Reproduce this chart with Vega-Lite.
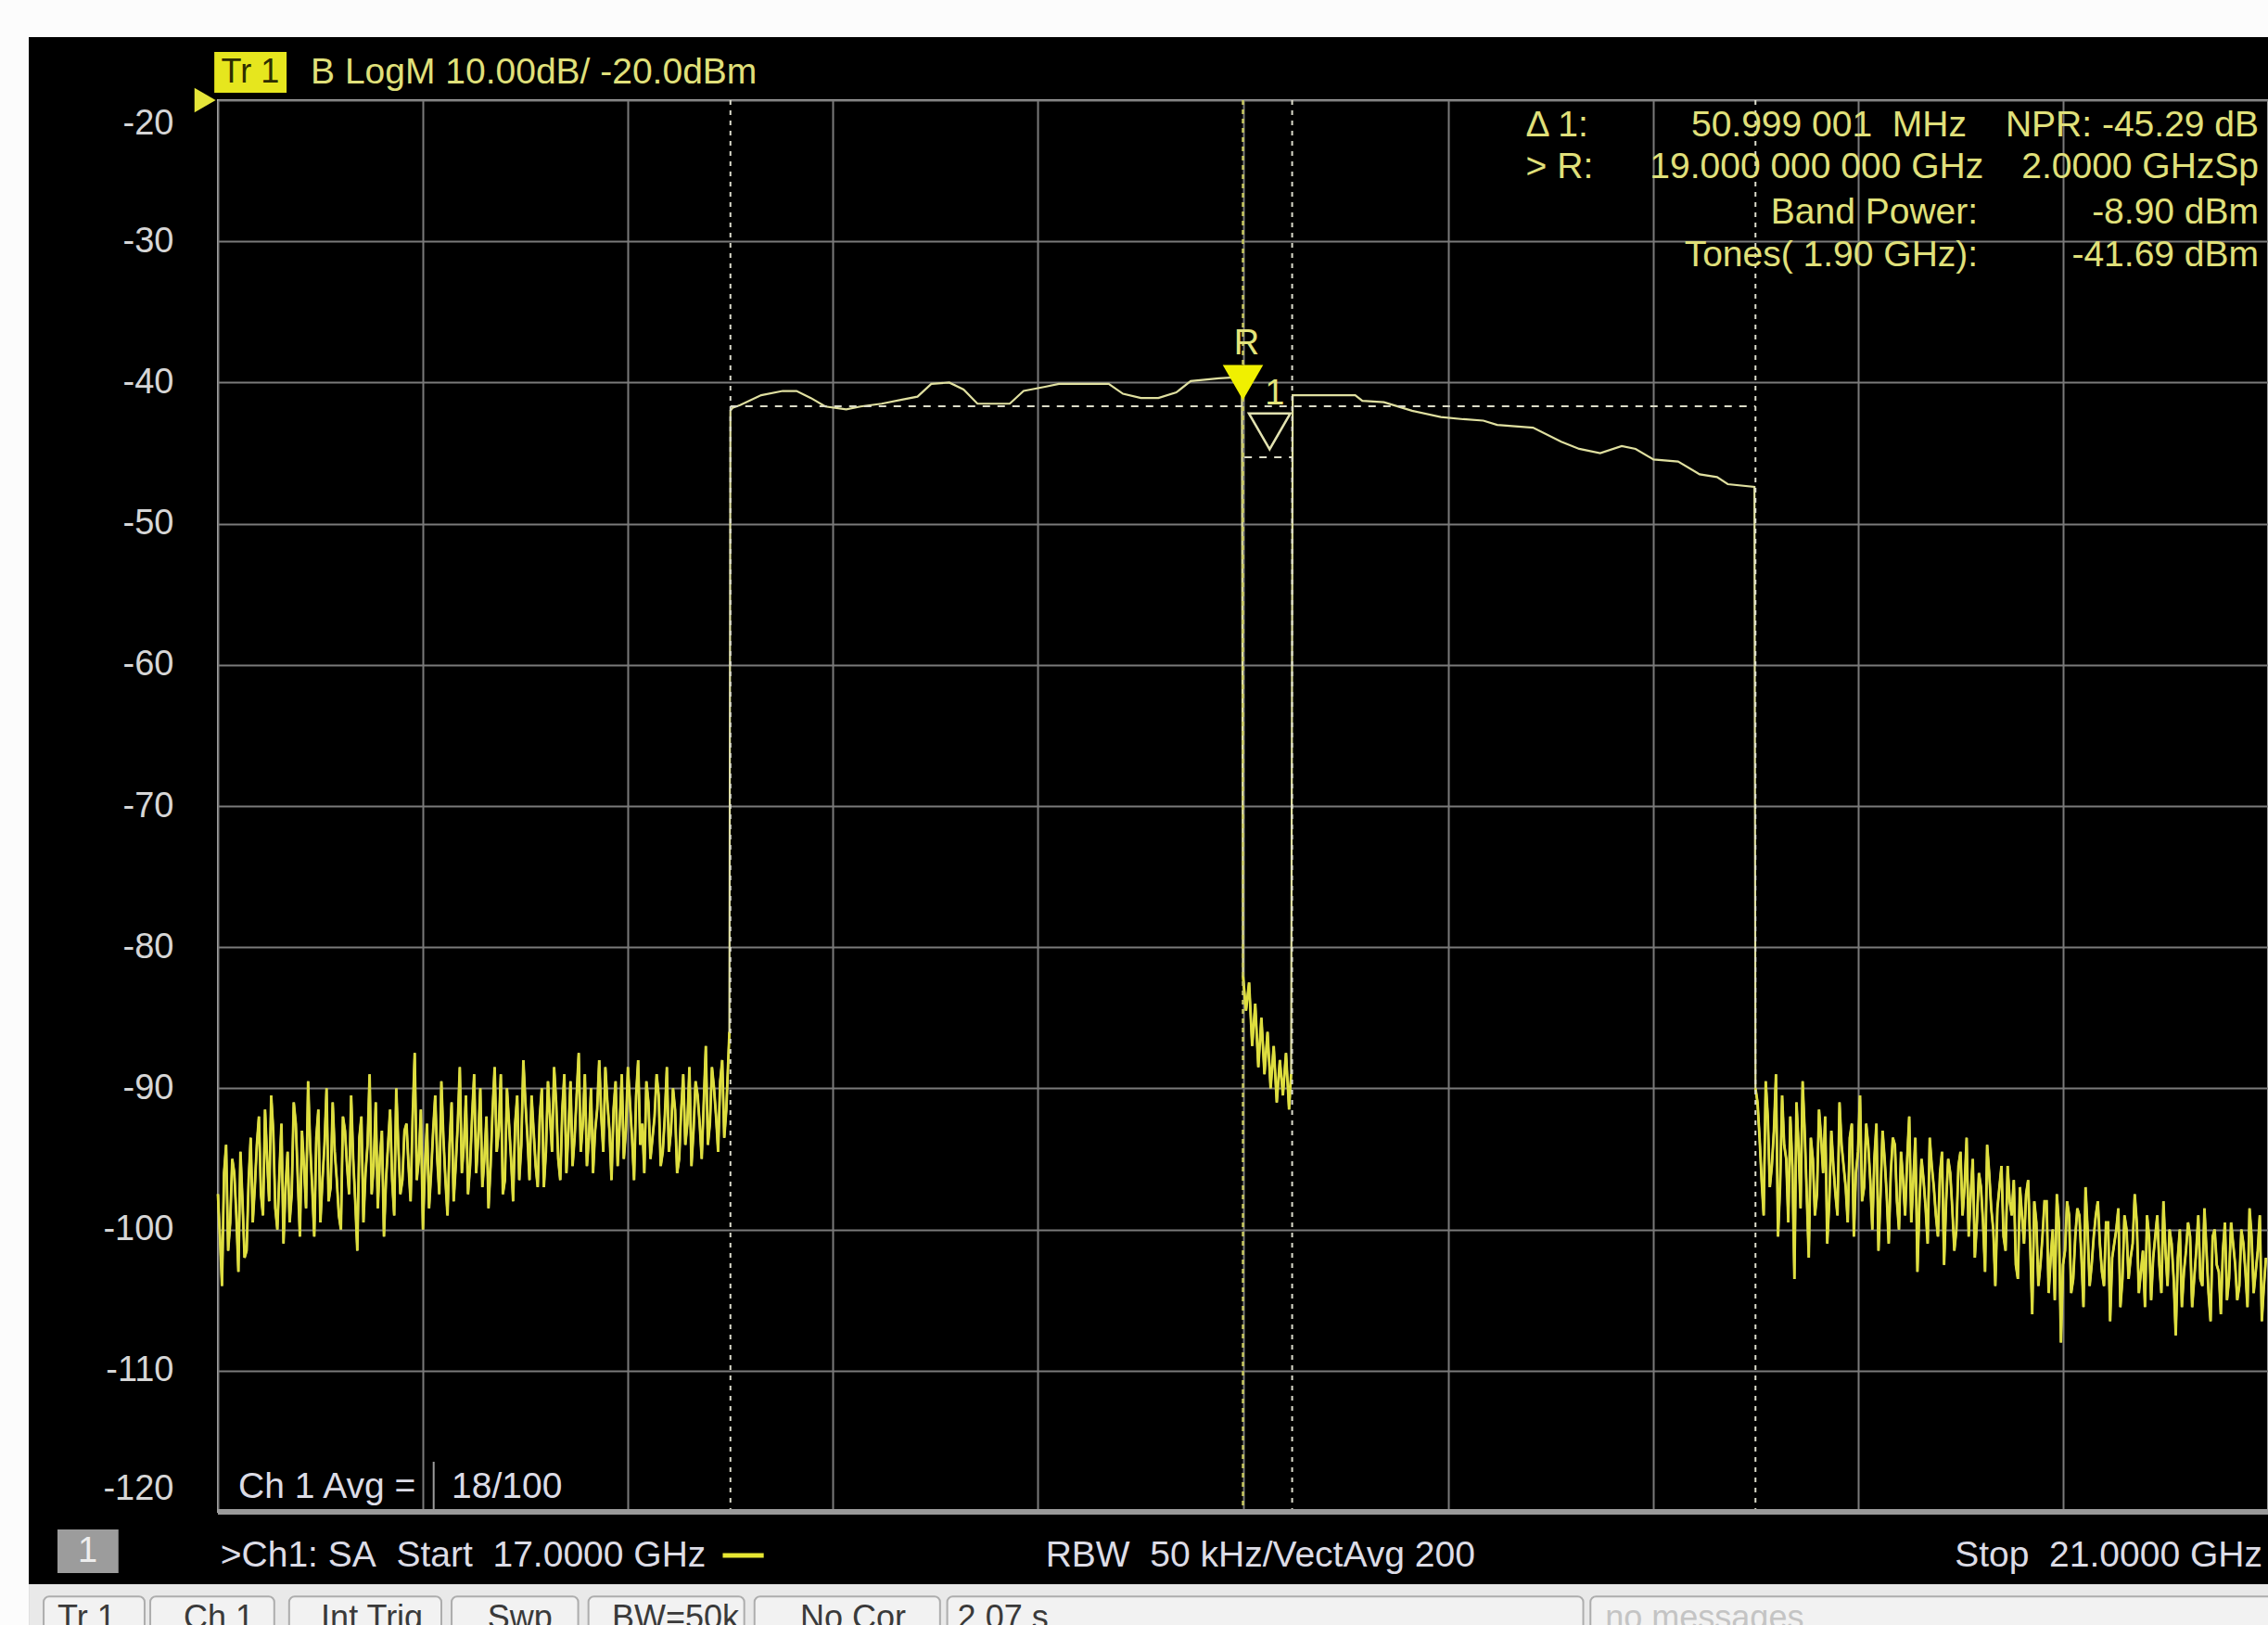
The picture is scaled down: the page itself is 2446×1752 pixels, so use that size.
{
  "$schema": "https://vega.github.io/schema/vega-lite/v6.json",
  "width": 2211,
  "height": 1522,
  "autosize": {"type": "none"},
  "padding": {"left": 235, "top": 108, "right": 0, "bottom": 122},
  "background": "#000000",
  "config": {"view": {"stroke": "#c0c0c0", "strokeWidth": 2}},
  "resolve": {"axis": {"x": "independent", "y": "independent"}},
  "datasets": {
    "trace": [
      {"f":17.000,"db":-97.5},{"f":17.008,"db":-104.0},{"f":17.016,"db":-94.0},{"f":17.024,"db":-99.5},{"f":17.032,"db":-96.0},{"f":17.040,"db":-103.0},{"f":17.048,"db":-98.0},{"f":17.056,"db":-101.5},{"f":17.064,"db":-93.5},{"f":17.072,"db":-97.0},
      {"f":17.080,"db":-92.0},{"f":17.088,"db":-99.0},{"f":17.096,"db":-95.0},{"f":17.104,"db":-90.5},{"f":17.112,"db":-98.5},{"f":17.120,"db":-96.0},{"f":17.128,"db":-101.0},{"f":17.136,"db":-94.5},{"f":17.144,"db":-97.5},{"f":17.152,"db":-92.5},
      {"f":17.160,"db":-100.5},{"f":17.168,"db":-95.5},{"f":17.176,"db":-89.5},{"f":17.184,"db":-97.0},{"f":17.192,"db":-93.5},{"f":17.200,"db":-99.5},{"f":17.208,"db":-94.0},{"f":17.216,"db":-98.0},{"f":17.224,"db":-91.0},{"f":17.232,"db":-96.5},
      {"f":17.240,"db":-100.0},{"f":17.248,"db":-93.0},{"f":17.256,"db":-97.5},{"f":17.264,"db":-95.0},{"f":17.272,"db":-101.5},{"f":17.280,"db":-92.0},{"f":17.288,"db":-96.0},{"f":17.296,"db":-89.0},{"f":17.304,"db":-95.5},{"f":17.312,"db":-98.5},
      {"f":17.320,"db":-93.0},{"f":17.328,"db":-96.5},{"f":17.336,"db":-91.5},{"f":17.344,"db":-99.0},{"f":17.352,"db":-94.0},{"f":17.360,"db":-96.5},{"f":17.368,"db":-92.5},{"f":17.376,"db":-98.0},{"f":17.384,"db":-87.5},{"f":17.392,"db":-95.0},
      {"f":17.400,"db":-100.0},{"f":17.408,"db":-92.5},{"f":17.416,"db":-96.0},{"f":17.424,"db":-90.5},{"f":17.432,"db":-97.5},{"f":17.440,"db":-93.5},{"f":17.448,"db":-99.0},{"f":17.456,"db":-91.0},{"f":17.464,"db":-95.5},{"f":17.472,"db":-88.5},
      {"f":17.480,"db":-94.0},{"f":17.488,"db":-97.5},{"f":17.496,"db":-92.0},{"f":17.504,"db":-96.0},{"f":17.512,"db":-90.0},{"f":17.520,"db":-95.0},{"f":17.528,"db":-98.5},{"f":17.536,"db":-91.5},{"f":17.544,"db":-94.5},{"f":17.552,"db":-89.0},
      {"f":17.560,"db":-96.5},{"f":17.568,"db":-92.5},{"f":17.576,"db":-98.0},{"f":17.584,"db":-90.5},{"f":17.592,"db":-94.0},{"f":17.600,"db":-91.0},{"f":17.608,"db":-96.5},{"f":17.616,"db":-93.0},{"f":17.624,"db":-97.0},{"f":17.632,"db":-90.0},
      {"f":17.640,"db":-94.5},{"f":17.648,"db":-92.0},{"f":17.656,"db":-88.5},{"f":17.664,"db":-95.0},{"f":17.672,"db":-91.5},{"f":17.680,"db":-96.0},{"f":17.688,"db":-89.5},{"f":17.696,"db":-93.5},{"f":17.704,"db":-87.5},{"f":17.712,"db":-92.5},
      {"f":17.720,"db":-95.5},{"f":17.728,"db":-90.0},{"f":17.736,"db":-93.0},{"f":17.744,"db":-88.0},{"f":17.752,"db":-94.5},{"f":17.760,"db":-91.0},{"f":17.768,"db":-96.5},{"f":17.776,"db":-89.5},{"f":17.784,"db":-92.5},{"f":17.792,"db":-95.0},
      {"f":17.800,"db":-88.5},{"f":17.808,"db":-93.5},{"f":17.816,"db":-90.5},{"f":17.824,"db":-94.0},{"f":17.832,"db":-96.0},{"f":17.840,"db":-91.0},{"f":17.848,"db":-93.5},{"f":17.856,"db":-89.0},{"f":17.864,"db":-95.5},{"f":17.872,"db":-92.0},
      {"f":17.880,"db":-94.5},{"f":17.888,"db":-90.0},{"f":17.896,"db":-96.0},{"f":17.904,"db":-91.5},{"f":17.912,"db":-94.0},{"f":17.920,"db":-88.5},{"f":17.928,"db":-93.0},{"f":17.936,"db":-90.5},{"f":17.944,"db":-95.0},{"f":17.952,"db":-87.0},
      {"f":17.960,"db":-92.5},{"f":17.968,"db":-90.0},{"f":17.976,"db":-94.5},{"f":17.984,"db":-88.0},{"f":17.992,"db":-91.5},{"f":17.998,"db":-86.0},
      {"f":18.000,"db":-42.0},{"f":18.004,"db":-41.8},{"f":18.019,"db":-41.6},{"f":18.060,"db":-40.9},{"f":18.102,"db":-40.6},{"f":18.129,"db":-40.6},{"f":18.157,"db":-41.1},{"f":18.185,"db":-41.7},{"f":18.226,"db":-41.9},{"f":18.254,"db":-41.7},
      {"f":18.295,"db":-41.5},{"f":18.337,"db":-41.2},{"f":18.365,"db":-41.0},{"f":18.392,"db":-40.1},{"f":18.427,"db":-40.0},{"f":18.455,"db":-40.5},{"f":18.482,"db":-41.5},{"f":18.545,"db":-41.5},{"f":18.572,"db":-40.6},{"f":18.614,"db":-40.3},
      {"f":18.641,"db":-40.1},{"f":18.738,"db":-40.1},{"f":18.766,"db":-40.8},{"f":18.801,"db":-41.1},{"f":18.835,"db":-41.1},{"f":18.870,"db":-40.7},{"f":18.898,"db":-39.9},{"f":18.953,"db":-39.7},{"f":18.998,"db":-39.6},
      {"f":19.000,"db":-82.0},{"f":19.006,"db":-84.5},{"f":19.012,"db":-82.5},{"f":19.018,"db":-87.0},{"f":19.024,"db":-84.0},{"f":19.030,"db":-88.5},{"f":19.036,"db":-85.0},{"f":19.042,"db":-89.0},{"f":19.048,"db":-86.0},{"f":19.054,"db":-90.0},
      {"f":19.060,"db":-87.0},{"f":19.066,"db":-91.0},{"f":19.072,"db":-88.0},{"f":19.078,"db":-90.5},{"f":19.084,"db":-87.5},{"f":19.090,"db":-91.5},{"f":19.094,"db":-89.0},
      {"f":19.097,"db":-40.9},{"f":19.150,"db":-40.9},{"f":19.219,"db":-40.9},{"f":19.233,"db":-41.3},{"f":19.275,"db":-41.4},{"f":19.330,"db":-42.0},{"f":19.386,"db":-42.45},{"f":19.430,"db":-42.6},{"f":19.469,"db":-42.7},{"f":19.496,"db":-43.0},
      {"f":19.566,"db":-43.2},{"f":19.621,"db":-44.2},{"f":19.656,"db":-44.7},{"f":19.697,"db":-45.0},{"f":19.739,"db":-44.5},{"f":19.766,"db":-44.7},{"f":19.801,"db":-45.45},{"f":19.849,"db":-45.6},{"f":19.891,"db":-46.5},{"f":19.925,"db":-46.7},
      {"f":19.946,"db":-47.2},{"f":19.998,"db":-47.4},
      {"f":20.000,"db":-90.0},{"f":20.004,"db":-91.0},{"f":20.012,"db":-96.5},{"f":20.020,"db":-89.5},{"f":20.028,"db":-97.0},{"f":20.036,"db":-93.0},{"f":20.044,"db":-100.5},{"f":20.052,"db":-90.5},{"f":20.060,"db":-95.0},{"f":20.068,"db":-92.0},
      {"f":20.076,"db":-103.5},{"f":20.084,"db":-94.0},{"f":20.092,"db":-89.5},{"f":20.100,"db":-97.5},{"f":20.108,"db":-93.5},{"f":20.116,"db":-99.0},{"f":20.124,"db":-91.5},{"f":20.132,"db":-96.0},{"f":20.140,"db":-101.0},{"f":20.148,"db":-93.0},
      {"f":20.156,"db":-97.5},{"f":20.164,"db":-91.0},{"f":20.172,"db":-95.5},{"f":20.180,"db":-99.5},{"f":20.188,"db":-92.5},{"f":20.196,"db":-96.0},{"f":20.204,"db":-90.5},{"f":20.212,"db":-97.0},{"f":20.220,"db":-94.0},{"f":20.228,"db":-100.0},
      {"f":20.236,"db":-92.5},{"f":20.244,"db":-97.5},{"f":20.252,"db":-95.0},{"f":20.260,"db":-101.0},{"f":20.268,"db":-93.5},{"f":20.276,"db":-98.0},{"f":20.284,"db":-94.5},{"f":20.292,"db":-99.0},{"f":20.300,"db":-92.0},{"f":20.308,"db":-96.5},
      {"f":20.316,"db":-103.0},{"f":20.324,"db":-95.0},{"f":20.332,"db":-98.5},{"f":20.340,"db":-93.5},{"f":20.348,"db":-97.0},{"f":20.356,"db":-100.5},{"f":20.364,"db":-94.5},{"f":20.372,"db":-98.0},{"f":20.380,"db":-96.0},{"f":20.388,"db":-101.5},
      {"f":20.396,"db":-95.5},{"f":20.404,"db":-99.0},{"f":20.412,"db":-93.5},{"f":20.420,"db":-97.5},{"f":20.428,"db":-102.0},{"f":20.436,"db":-96.0},{"f":20.444,"db":-99.5},{"f":20.452,"db":-94.0},{"f":20.460,"db":-98.5},{"f":20.468,"db":-104.0},
      {"f":20.476,"db":-97.0},{"f":20.484,"db":-100.5},{"f":20.492,"db":-95.5},{"f":20.500,"db":-99.0},{"f":20.508,"db":-102.5},{"f":20.516,"db":-97.0},{"f":20.524,"db":-101.0},{"f":20.532,"db":-96.5},{"f":20.540,"db":-106.0},{"f":20.548,"db":-99.5},
      {"f":20.556,"db":-102.5},{"f":20.564,"db":-98.0},{"f":20.572,"db":-104.5},{"f":20.580,"db":-100.0},{"f":20.588,"db":-97.5},{"f":20.596,"db":-108.0},{"f":20.604,"db":-101.5},{"f":20.612,"db":-99.0},{"f":20.620,"db":-103.5},{"f":20.628,"db":-98.5},
      {"f":20.636,"db":-102.0},{"f":20.644,"db":-97.0},{"f":20.652,"db":-104.0},{"f":20.660,"db":-100.5},{"f":20.668,"db":-98.0},{"f":20.676,"db":-103.0},{"f":20.684,"db":-99.5},{"f":20.692,"db":-106.5},{"f":20.700,"db":-101.0},{"f":20.708,"db":-98.5},
      {"f":20.716,"db":-103.5},{"f":20.724,"db":-100.0},{"f":20.732,"db":-102.0},{"f":20.740,"db":-97.5},{"f":20.748,"db":-104.5},{"f":20.756,"db":-101.5},{"f":20.764,"db":-99.0},{"f":20.772,"db":-105.0},{"f":20.780,"db":-100.5},{"f":20.788,"db":-102.5},
      {"f":20.796,"db":-98.0},{"f":20.804,"db":-104.0},{"f":20.812,"db":-101.0},{"f":20.820,"db":-107.5},{"f":20.828,"db":-100.0},{"f":20.836,"db":-103.0},{"f":20.844,"db":-99.5},{"f":20.852,"db":-105.5},{"f":20.860,"db":-101.5},{"f":20.868,"db":-103.5},
      {"f":20.876,"db":-98.5},{"f":20.884,"db":-104.5},{"f":20.892,"db":-100.5},{"f":20.900,"db":-102.5},{"f":20.908,"db":-106.0},{"f":20.916,"db":-99.5},{"f":20.924,"db":-103.5},{"f":20.932,"db":-101.0},{"f":20.940,"db":-105.0},{"f":20.948,"db":-100.0},
      {"f":20.956,"db":-103.0},{"f":20.964,"db":-98.5},{"f":20.972,"db":-104.5},{"f":20.980,"db":-101.5},{"f":20.988,"db":-106.5},{"f":20.996,"db":-102.0},
      {"f":17.004,"db":-100.5},{"f":17.012,"db":-96.0},{"f":17.020,"db":-101.5},{"f":17.028,"db":-95.0},{"f":17.036,"db":-99.0},{"f":17.044,"db":-94.5},{"f":17.052,"db":-102.0},{"f":17.060,"db":-96.5},{"f":17.068,"db":-99.5},{"f":17.076,"db":-94.0},
      {"f":17.084,"db":-97.5},{"f":17.092,"db":-91.5},{"f":17.100,"db":-98.0},{"f":17.108,"db":-93.0},{"f":17.116,"db":-100.0},{"f":17.124,"db":-92.5},{"f":17.132,"db":-97.0},{"f":17.140,"db":-99.5},{"f":17.148,"db":-91.0},{"f":17.156,"db":-96.5},
      {"f":17.164,"db":-93.0},{"f":17.172,"db":-98.5},{"f":17.180,"db":-94.0},{"f":17.188,"db":-100.5},{"f":17.196,"db":-91.5},{"f":17.204,"db":-96.5},{"f":17.212,"db":-90.0},{"f":17.220,"db":-97.0},{"f":17.228,"db":-94.5},{"f":17.236,"db":-99.0},
      {"f":17.244,"db":-92.0},{"f":17.252,"db":-95.5},{"f":17.260,"db":-90.5},{"f":17.268,"db":-98.0},{"f":17.276,"db":-93.5},{"f":17.284,"db":-99.5},{"f":17.292,"db":-94.0},{"f":17.300,"db":-97.5},{"f":17.308,"db":-91.0},{"f":17.316,"db":-95.0},
      {"f":17.324,"db":-100.5},{"f":17.332,"db":-94.0},{"f":17.340,"db":-96.5},{"f":17.348,"db":-90.0},{"f":17.356,"db":-97.5},{"f":17.364,"db":-93.0},{"f":17.372,"db":-95.5},{"f":17.380,"db":-92.0},{"f":17.388,"db":-96.5},{"f":17.396,"db":-91.5},
      {"f":17.404,"db":-95.5},{"f":17.412,"db":-98.5},{"f":17.420,"db":-93.0},{"f":17.428,"db":-95.0},{"f":17.436,"db":-89.5},{"f":17.444,"db":-96.5},{"f":17.452,"db":-94.0},{"f":17.460,"db":-98.0},{"f":17.468,"db":-92.5},{"f":17.476,"db":-96.0},
      {"f":17.484,"db":-90.5},{"f":17.492,"db":-95.5},{"f":17.500,"db":-89.0},{"f":17.508,"db":-93.5},{"f":17.516,"db":-97.0},{"f":17.524,"db":-92.0},{"f":17.532,"db":-95.5},{"f":17.540,"db":-88.5},{"f":17.548,"db":-93.0},{"f":17.556,"db":-97.5},
      {"f":17.564,"db":-90.0},{"f":17.572,"db":-95.0},{"f":17.580,"db":-92.5},{"f":17.588,"db":-96.5},{"f":17.596,"db":-88.0},{"f":17.604,"db":-93.5},{"f":17.612,"db":-90.5},{"f":17.620,"db":-95.5},{"f":17.628,"db":-92.0},{"f":17.636,"db":-97.0},
      {"f":17.644,"db":-89.5},{"f":17.652,"db":-94.5},{"f":17.660,"db":-91.0},{"f":17.668,"db":-96.5},{"f":17.676,"db":-89.0},{"f":17.684,"db":-93.0},{"f":17.692,"db":-95.5},{"f":17.700,"db":-90.5},{"f":17.708,"db":-94.5},{"f":17.716,"db":-89.0},
      {"f":17.724,"db":-93.5},{"f":17.732,"db":-96.0},{"f":17.740,"db":-91.5},{"f":17.748,"db":-92.0},{"f":17.756,"db":-88.5},{"f":17.764,"db":-93.0},{"f":17.772,"db":-91.5},{"f":17.780,"db":-95.5},{"f":17.788,"db":-89.0},{"f":17.796,"db":-93.0},
      {"f":17.804,"db":-91.0},{"f":17.812,"db":-96.5},{"f":17.820,"db":-88.0},{"f":17.828,"db":-92.5},{"f":17.836,"db":-89.5},{"f":17.844,"db":-95.0},{"f":17.852,"db":-92.0},{"f":17.860,"db":-90.5},{"f":17.868,"db":-94.5},{"f":17.876,"db":-88.5},
      {"f":17.884,"db":-93.0},{"f":17.892,"db":-91.5},{"f":17.900,"db":-95.0},{"f":17.908,"db":-89.0},{"f":17.916,"db":-92.5},{"f":17.924,"db":-95.5},{"f":17.932,"db":-89.5},{"f":17.940,"db":-92.5},{"f":17.948,"db":-91.0},{"f":17.956,"db":-94.0},
      {"f":17.964,"db":-88.5},{"f":17.972,"db":-92.0},{"f":17.980,"db":-89.5},{"f":17.988,"db":-93.5},
      {"f":20.008,"db":-93.5},{"f":20.016,"db":-99.0},{"f":20.024,"db":-92.0},{"f":20.032,"db":-95.5},{"f":20.040,"db":-89.0},{"f":20.048,"db":-97.0},{"f":20.056,"db":-94.0},{"f":20.064,"db":-99.5},{"f":20.072,"db":-95.5},{"f":20.080,"db":-91.0},
      {"f":20.088,"db":-98.5},{"f":20.096,"db":-93.0},{"f":20.104,"db":-102.0},{"f":20.112,"db":-95.0},{"f":20.120,"db":-97.5},{"f":20.128,"db":-93.5},{"f":20.136,"db":-92.0},{"f":20.144,"db":-98.0},{"f":20.152,"db":-95.5},{"f":20.160,"db":-99.0},
      {"f":20.168,"db":-94.0},{"f":20.176,"db":-97.0},{"f":20.184,"db":-93.5},{"f":20.192,"db":-100.5},{"f":20.200,"db":-94.5},{"f":20.208,"db":-98.0},{"f":20.216,"db":-92.5},{"f":20.224,"db":-96.5},{"f":20.232,"db":-95.0},{"f":20.240,"db":-101.5},
      {"f":20.248,"db":-93.0},{"f":20.256,"db":-97.5},{"f":20.264,"db":-96.0},{"f":20.272,"db":-94.0},{"f":20.280,"db":-100.0},{"f":20.288,"db":-96.5},{"f":20.296,"db":-95.0},{"f":20.304,"db":-99.5},{"f":20.312,"db":-93.5},{"f":20.320,"db":-98.0},
      {"f":20.328,"db":-96.5},{"f":20.336,"db":-101.0},{"f":20.344,"db":-95.5},{"f":20.352,"db":-99.0},{"f":20.360,"db":-96.0},{"f":20.368,"db":-102.5},{"f":20.376,"db":-95.0},{"f":20.384,"db":-98.5},{"f":20.392,"db":-100.0},{"f":20.400,"db":-94.5},
      {"f":20.408,"db":-97.0},{"f":20.416,"db":-100.5},{"f":20.424,"db":-95.0},{"f":20.432,"db":-99.5},{"f":20.440,"db":-97.0},{"f":20.448,"db":-103.0},{"f":20.456,"db":-96.0},{"f":20.464,"db":-100.0},{"f":20.472,"db":-98.5},{"f":20.480,"db":-95.5},
      {"f":20.488,"db":-101.5},{"f":20.496,"db":-98.0},{"f":20.504,"db":-96.5},{"f":20.512,"db":-103.5},{"f":20.520,"db":-99.0},{"f":20.528,"db":-97.5},{"f":20.536,"db":-101.0},{"f":20.544,"db":-98.0},{"f":20.552,"db":-104.0},{"f":20.560,"db":-100.5},
      {"f":20.568,"db":-98.0},{"f":20.576,"db":-102.0},{"f":20.584,"db":-105.0},{"f":20.592,"db":-99.5},{"f":20.600,"db":-102.5},{"f":20.608,"db":-98.0},{"f":20.616,"db":-104.5},{"f":20.624,"db":-100.5},{"f":20.632,"db":-99.0},{"f":20.640,"db":-105.5},
      {"f":20.648,"db":-100.0},{"f":20.656,"db":-102.5},{"f":20.664,"db":-99.0},{"f":20.672,"db":-101.0},{"f":20.680,"db":-104.0},{"f":20.688,"db":-99.5},{"f":20.696,"db":-102.0},{"f":20.704,"db":-100.0},{"f":20.712,"db":-105.5},{"f":20.720,"db":-99.0},
      {"f":20.728,"db":-103.5},{"f":20.736,"db":-101.0},{"f":20.744,"db":-99.5},{"f":20.752,"db":-103.0},{"f":20.760,"db":-105.5},{"f":20.768,"db":-100.5},{"f":20.776,"db":-102.0},{"f":20.784,"db":-99.0},{"f":20.792,"db":-104.5},{"f":20.800,"db":-101.5},
      {"f":20.808,"db":-100.0},{"f":20.816,"db":-103.5},{"f":20.824,"db":-102.0},{"f":20.832,"db":-105.5},{"f":20.840,"db":-101.5},{"f":20.848,"db":-100.5},{"f":20.856,"db":-103.5},{"f":20.864,"db":-99.0},{"f":20.872,"db":-104.0},{"f":20.880,"db":-101.5},
      {"f":20.888,"db":-106.5},{"f":20.896,"db":-100.0},{"f":20.904,"db":-103.0},{"f":20.912,"db":-101.5},{"f":20.920,"db":-105.0},{"f":20.928,"db":-99.5},{"f":20.936,"db":-102.5},{"f":20.944,"db":-104.0},{"f":20.952,"db":-101.0},{"f":20.960,"db":-105.5},
      {"f":20.968,"db":-100.5},{"f":20.976,"db":-103.0},{"f":20.984,"db":-99.0},{"f":20.992,"db":-104.0}
    ]
  },
  "layer": [
    {
      "data": {"values": [{"f":16.3,"f2":21.3,"db":-10,"db2":-15.53},{"f":16.3,"f2":16.631,"db":-10,"db2":-131}]},
      "mark": {"type": "rect", "fill": "#fcfcfc"},
      "encoding": {
        "x": {"field":"f","type":"quantitative","scale":{"domain":[17,21],"nice":false,"zero":false},"axis":null},
        "x2": {"field":"f2"},
        "y": {"field":"db","type":"quantitative","scale":{"domain":[-120,-20],"nice":false,"zero":false},"axis":null},
        "y2": {"field":"db2"}
      }
    },
    {
      "data": {"values": [{"f":16.631,"f2":21.3,"db":-125.12,"db2":-131}]},
      "mark": {"type": "rect", "fill": "#e9e9e9"},
      "encoding": {
        "x": {"field":"f","type":"quantitative","scale":{"domain":[17,21],"nice":false,"zero":false},"axis":null},
        "x2": {"field":"f2"},
        "y": {"field":"db","type":"quantitative","scale":{"domain":[-120,-20],"nice":false,"zero":false},"axis":null},
        "y2": {"field":"db2"}
      }
    },
    {
      "data": {"values": [{"f":16.660,"f2":16.857},{"f":16.868,"f2":17.110},{"f":17.139,"f2":17.436},{"f":17.456,"f2":17.703},{"f":17.723,"f2":18.027},{"f":18.047,"f2":18.409},{"f":18.423,"f2":19.664},{"f":19.678,"f2":21.3}]},
      "mark": {"type": "rect", "fill": "#f2f2f2", "stroke": "#adadad", "strokeWidth": 2, "cornerRadius": 6},
      "encoding": {
        "x": {"field":"f","type":"quantitative","scale":{"domain":[17,21],"nice":false,"zero":false},"axis":null},
        "x2": {"field":"f2"},
        "y": {"datum": -126.0, "type":"quantitative","scale":{"domain":[-120,-20],"nice":false,"zero":false},"axis":null},
        "y2": {"datum": -131}
      }
    },
    {
      "data": {"values": [{"t":"Tr 1","f":16.687},{"t":"Ch 1","f":16.933},{"t":"Int Trig","f":17.201},{"t":"Swp","f":17.526},{"t":"BW=50k","f":17.769},{"t":"No Cor","f":18.136},{"t":"2.07 s","f":18.443}]},
      "mark": {"type": "text", "align": "left", "baseline": "top", "font": "Liberation Sans", "fontSize": 36, "color": "#3a3a3a"},
      "encoding": {
        "x": {"field":"f","type":"quantitative","scale":{"domain":[17,21],"nice":false,"zero":false},"axis":null},
        "y": {"datum": -126.45, "type":"quantitative","scale":{"domain":[-120,-20],"nice":false,"zero":false},"axis":null},
        "text": {"field":"t"}
      }
    },
    {
      "data": {"values": [{"t":"no messages","f":19.707}]},
      "mark": {"type": "text", "align": "left", "baseline": "top", "font": "Liberation Sans", "fontSize": 36, "color": "#c4c4c4"},
      "encoding": {
        "x": {"field":"f","type":"quantitative","scale":{"domain":[17,21],"nice":false,"zero":false},"axis":null},
        "y": {"datum": -126.45, "type":"quantitative","scale":{"domain":[-120,-20],"nice":false,"zero":false},"axis":null},
        "text": {"field":"t"}
      }
    },
    {
      "data": {"name": "trace"},
      "mark": {"type": "line", "color": "#e0e0a0", "strokeWidth": 2.2},
      "encoding": {
        "x": {"field":"f","type":"quantitative","scale":{"domain":[17,21],"nice":false,"zero":false},
              "axis":{"values":[17,17.4,17.8,18.2,18.6,19,19.4,19.8,20.2,20.6,21],"grid":true,"gridColor":"#7a7a7a","gridWidth":2,"labels":false,"ticks":false,"domain":false,"title":null}},
        "y": {"field":"db","type":"quantitative","scale":{"domain":[-120,-20],"nice":false,"zero":false},
              "axis":{"values":[-20,-30,-40,-50,-60,-70,-80,-90,-100,-110,-120],"grid":true,"gridColor":"#7a7a7a","gridWidth":2,"domain":false,"ticks":false,"labelColor":"#d6d6d6","labelFont":"Liberation Sans","labelFontSize":38,"labelPadding":48,"labelFlush":true,"labelFlushOffset":-6,"title":null,"labelExpr":"'' + datum.value"}}
      }
    },
    {
      "data": {"name": "trace"},
      "transform": [{"filter": "datum.f < 17.999"}],
      "mark": {"type": "line", "color": "#dede3e", "strokeWidth": 2.8},
      "encoding": {
        "x": {"field":"f","type":"quantitative","scale":{"domain":[17,21],"nice":false,"zero":false},"axis":null},
        "y": {"field":"db","type":"quantitative","scale":{"domain":[-120,-20],"nice":false,"zero":false},"axis":null}
      }
    },
    {
      "data": {"name": "trace"},
      "transform": [{"filter": "datum.f > 19.9995"}],
      "mark": {"type": "line", "color": "#dede3e", "strokeWidth": 2.8},
      "encoding": {
        "x": {"field":"f","type":"quantitative","scale":{"domain":[17,21],"nice":false,"zero":false},"axis":null},
        "y": {"field":"db","type":"quantitative","scale":{"domain":[-120,-20],"nice":false,"zero":false},"axis":null}
      }
    },
    {
      "data": {"name": "trace"},
      "transform": [{"filter": "datum.f >= 18.9995 && datum.f <= 19.095"}],
      "mark": {"type": "line", "color": "#dede3e", "strokeWidth": 2.8},
      "encoding": {
        "x": {"field":"f","type":"quantitative","scale":{"domain":[17,21],"nice":false,"zero":false},"axis":null},
        "y": {"field":"db","type":"quantitative","scale":{"domain":[-120,-20],"nice":false,"zero":false},"axis":null}
      }
    },
    {
      "data": {"values": [{"f":18.0},{"f":19.096},{"f":20.0}]},
      "mark": {"type": "rule", "color": "#dcdccc", "strokeWidth": 2, "strokeDash": [5, 6]},
      "encoding": {
        "x": {"field":"f","type":"quantitative","scale":{"domain":[17,21],"nice":false,"zero":false},"axis":null}
      }
    },
    {
      "data": {"values": [{"f":19.0}]},
      "mark": {"type": "rule", "color": "#c8c860", "strokeWidth": 2.5, "strokeDash": [5, 5]},
      "encoding": {
        "x": {"field":"f","type":"quantitative","scale":{"domain":[17,21],"nice":false,"zero":false},"axis":null}
      }
    },
    {
      "data": {"values": [{"f":18.0,"f2":20.0,"db":-41.69},{"f":19.003,"f2":19.096,"db":-45.3}]},
      "mark": {"type": "rule", "color": "#dcdcc8", "strokeWidth": 2, "strokeDash": [8, 8]},
      "encoding": {
        "x": {"field":"f","type":"quantitative","scale":{"domain":[17,21],"nice":false,"zero":false},"axis":null},
        "x2": {"field":"f2"},
        "y": {"field":"db","type":"quantitative","scale":{"domain":[-120,-20],"nice":false,"zero":false},"axis":null}
      }
    },
    {
      "data": {"values": [{"f":17.0,"f2":21.0,"db":-120}]},
      "mark": {"type": "rule", "color": "#9a9a9a", "strokeWidth": 6},
      "encoding": {
        "x": {"field":"f","type":"quantitative","scale":{"domain":[17,21],"nice":false,"zero":false},"axis":null},
        "x2": {"field":"f2"},
        "y": {"field":"db","type":"quantitative","scale":{"domain":[-120,-20],"nice":false,"zero":false},"axis":null}
      }
    },
    {
      "data": {"values": [{"f":17.421,"db":-116.45,"db2":-120}]},
      "mark": {"type": "rule", "color": "#9a9a9a", "strokeWidth": 2},
      "encoding": {
        "x": {"field":"f","type":"quantitative","scale":{"domain":[17,21],"nice":false,"zero":false},"axis":null},
        "y": {"field":"db","type":"quantitative","scale":{"domain":[-120,-20],"nice":false,"zero":false},"axis":null},
        "y2": {"field":"db2"}
      }
    },
    {
      "data": {"values": [{"f":17.985,"f2":18.065,"db":-123.09}]},
      "mark": {"type": "rule", "color": "#e6e632", "strokeWidth": 5},
      "encoding": {
        "x": {"field":"f","type":"quantitative","scale":{"domain":[17,21],"nice":false,"zero":false},"axis":null},
        "x2": {"field":"f2"},
        "y": {"field":"db","type":"quantitative","scale":{"domain":[-120,-20],"nice":false,"zero":false},"axis":null}
      }
    },
    {
      "data": {"values": [{"f":16.993,"f2":17.134,"db":-16.58,"db2":-19.47}]},
      "mark": {"type": "rect", "fill": "#e6e61e"},
      "encoding": {
        "x": {"field":"f","type":"quantitative","scale":{"domain":[17,21],"nice":false,"zero":false},"axis":null},
        "x2": {"field":"f2"},
        "y": {"field":"db","type":"quantitative","scale":{"domain":[-120,-20],"nice":false,"zero":false},"axis":null},
        "y2": {"field":"db2"}
      }
    },
    {
      "data": {"values": [{"f":16.687,"f2":16.806,"db":-121.25,"db2":-124.34}]},
      "mark": {"type": "rect", "fill": "#9c9c9c"},
      "encoding": {
        "x": {"field":"f","type":"quantitative","scale":{"domain":[17,21],"nice":false,"zero":false},"axis":null},
        "x2": {"field":"f2"},
        "y": {"field":"db","type":"quantitative","scale":{"domain":[-120,-20],"nice":false,"zero":false},"axis":null},
        "y2": {"field":"db2"}
      }
    },
    {
      "data": {"values": [{"f":19.0,"db":-40.0}]},
      "mark": {"type": "point", "shape": "triangle-down", "filled": true, "color": "#f0f000", "size": 1900, "opacity": 1},
      "encoding": {
        "x": {"field":"f","type":"quantitative","scale":{"domain":[17,21],"nice":false,"zero":false},"axis":null},
        "y": {"field":"db","type":"quantitative","scale":{"domain":[-120,-20],"nice":false,"zero":false},"axis":null}
      }
    },
    {
      "data": {"values": [{"f":19.052,"db":-43.46}]},
      "mark": {"type": "point", "shape": "triangle-down", "filled": false, "stroke": "#e2e2b0", "strokeWidth": 2.5, "size": 2000, "opacity": 1},
      "encoding": {
        "x": {"field":"f","type":"quantitative","scale":{"domain":[17,21],"nice":false,"zero":false},"axis":null},
        "y": {"field":"db","type":"quantitative","scale":{"domain":[-120,-20],"nice":false,"zero":false},"axis":null}
      }
    },
    {
      "data": {"values": [{"f":16.975,"db":-20.0}]},
      "mark": {"type": "point", "shape": "triangle-right", "filled": true, "color": "#e6e63a", "size": 700, "opacity": 1},
      "encoding": {
        "x": {"field":"f","type":"quantitative","scale":{"domain":[17,21],"nice":false,"zero":false},"axis":null},
        "y": {"field":"db","type":"quantitative","scale":{"domain":[-120,-20],"nice":false,"zero":false},"axis":null}
      }
    },
    {
      "data": {"values": [{"t":"R","f":19.007,"db":-37.3},{"t":"1","f":19.062,"db":-40.8}]},
      "mark": {"type": "text", "align": "center", "baseline": "middle", "font": "Liberation Sans", "fontSize": 38, "color": "#e4e47a"},
      "encoding": {
        "x": {"field":"f","type":"quantitative","scale":{"domain":[17,21],"nice":false,"zero":false},"axis":null},
        "y": {"field":"db","type":"quantitative","scale":{"domain":[-120,-20],"nice":false,"zero":false},"axis":null},
        "text": {"field":"t"}
      }
    },
    {
      "data": {"values": [{"t":"Tr 1","f":17.063,"db":-18.03}]},
      "mark": {"type": "text", "align": "center", "baseline": "middle", "font": "Liberation Sans", "fontSize": 36, "color": "#2e2e00"},
      "encoding": {
        "x": {"field":"f","type":"quantitative","scale":{"domain":[17,21],"nice":false,"zero":false},"axis":null},
        "y": {"field":"db","type":"quantitative","scale":{"domain":[-120,-20],"nice":false,"zero":false},"axis":null},
        "text": {"field":"t"}
      }
    },
    {
      "data": {"values": [{"t":"B LogM 10.00dB/ -20.0dBm","f":17.181,"db":-18.03},{"t":"Δ 1:","f":19.552,"db":-21.8},{"t":"> R:","f":19.552,"db":-24.7}]},
      "mark": {"type": "text", "align": "left", "baseline": "middle", "font": "Liberation Sans", "fontSize": 39, "color": "#e0e07a"},
      "encoding": {
        "x": {"field":"f","type":"quantitative","scale":{"domain":[17,21],"nice":false,"zero":false},"axis":null},
        "y": {"field":"db","type":"quantitative","scale":{"domain":[-120,-20],"nice":false,"zero":false},"axis":null},
        "text": {"field":"t"}
      }
    },
    {
      "data": {"values": [
        {"t":"50.999 001\u00a0 MHz","f":20.412,"db":-21.8},
        {"t":"19.000 000 000 GHz","f":20.445,"db":-24.7},
        {"t":"Band Power:","f":20.434,"db":-27.95},
        {"t":"Tones( 1.90 GHz):","f":20.434,"db":-31.0},
        {"t":"NPR: -45.29 dB","f":20.982,"db":-21.8},
        {"t":"2.0000 GHzSp","f":20.982,"db":-24.7},
        {"t":"-8.90 dBm","f":20.982,"db":-27.95},
        {"t":"-41.69 dBm","f":20.982,"db":-31.0}
      ]},
      "mark": {"type": "text", "align": "right", "baseline": "middle", "font": "Liberation Sans", "fontSize": 39, "color": "#e0e07a"},
      "encoding": {
        "x": {"field":"f","type":"quantitative","scale":{"domain":[17,21],"nice":false,"zero":false},"axis":null},
        "y": {"field":"db","type":"quantitative","scale":{"domain":[-120,-20],"nice":false,"zero":false},"axis":null},
        "text": {"field":"t"}
      }
    },
    {
      "data": {"values": [
        {"t":">Ch1: SA\u00a0 Start\u00a0 17.0000 GHz","f":17.005,"db":-123.09},
        {"t":"RBW\u00a0 50 kHz/VectAvg 200","f":18.615,"db":-123.09},
        {"t":"Ch 1 Avg =","f":17.040,"db":-118.2},
        {"t":"18/100","f":17.456,"db":-118.2}
      ]},
      "mark": {"type": "text", "align": "left", "baseline": "middle", "font": "Liberation Sans", "fontSize": 39, "color": "#dcdce6"},
      "encoding": {
        "x": {"field":"f","type":"quantitative","scale":{"domain":[17,21],"nice":false,"zero":false},"axis":null},
        "y": {"field":"db","type":"quantitative","scale":{"domain":[-120,-20],"nice":false,"zero":false},"axis":null},
        "text": {"field":"t"}
      }
    },
    {
      "data": {"values": [{"t":"Stop\u00a0 21.0000 GHz","f":20.989,"db":-123.09}]},
      "mark": {"type": "text", "align": "right", "baseline": "middle", "font": "Liberation Sans", "fontSize": 39, "color": "#dcdce6"},
      "encoding": {
        "x": {"field":"f","type":"quantitative","scale":{"domain":[17,21],"nice":false,"zero":false},"axis":null},
        "y": {"field":"db","type":"quantitative","scale":{"domain":[-120,-20],"nice":false,"zero":false},"axis":null},
        "text": {"field":"t"}
      }
    },
    {
      "data": {"values": [{"t":"1","f":16.746,"db":-122.8}]},
      "mark": {"type": "text", "align": "center", "baseline": "middle", "font": "Liberation Sans", "fontSize": 38, "color": "#eeeeee"},
      "encoding": {
        "x": {"field":"f","type":"quantitative","scale":{"domain":[17,21],"nice":false,"zero":false},"axis":null},
        "y": {"field":"db","type":"quantitative","scale":{"domain":[-120,-20],"nice":false,"zero":false},"axis":null},
        "text": {"field":"t"}
      }
    }
  ]
}
